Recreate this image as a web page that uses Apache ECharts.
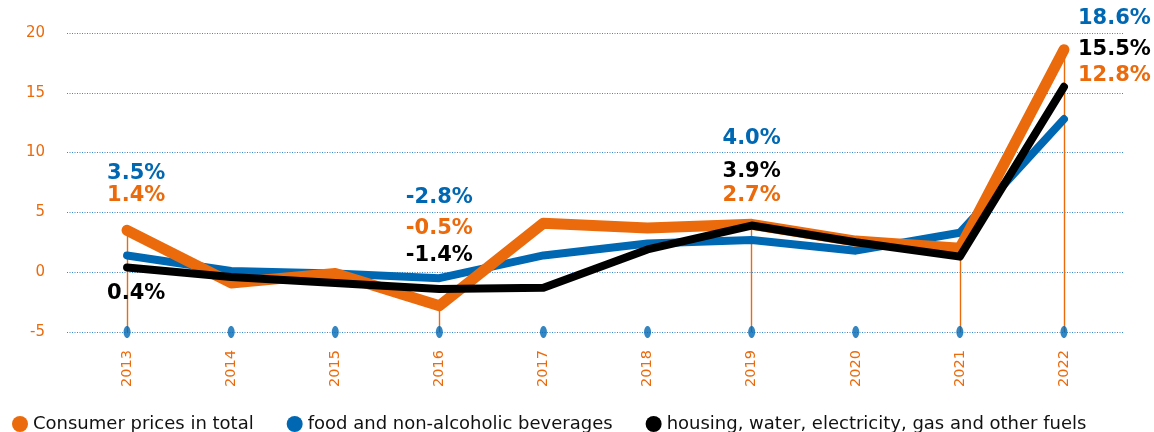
<!DOCTYPE html>
<html>
<head>
<meta charset="utf-8">
<script src="https://cdn.jsdelivr.net/npm/echarts@6/dist/echarts.min.js"></script>
<style>
  html, body { margin: 0; padding: 0; background: #fff; }
  #chart { width: 1154px; height: 432px; }
</style>
</head>
<body>
<div id="chart"></div>
<script>
// Annual change, %
const years = ['2013', '2014', '2015', '2016', '2017', '2018', '2019', '2020', '2021', '2022'];
const consumerPrices = [3.5, -0.9, -0.1, -2.8, 4.1, 3.7, 4.0, 2.6, 2.0, 18.6];
const foodBeverages = [1.4, 0.1, -0.1, -0.5, 1.4, 2.4, 2.7, 1.8, 3.3, 12.8];
const housingFuels = [0.4, -0.4, -0.9, -1.4, -1.3, 1.9, 3.9, 2.5, 1.3, 15.5];
const seriesNames = ['Consumer prices in total', 'food and non-alcoholic beverages', 'housing, water, electricity, gas and other fuels'];
const yTicks = [-5, 0, 5, 10, 15, 20];
const dropYears = ['2013', '2016', '2019', '2021', '2022'];

const ORANGE = '#EB6A0C';
const BLUE = '#0068B3';
const BLACK = '#000000';
const yMin = yTicks[0], yMax = yTicks[yTicks.length - 1], yStep = yTicks[1] - yTicks[0];
const pxPerUnit = 12;

// value labels: which years carry one, text colour, alignment and where the text sits
// (centre, in px above/below the axis zero line) for each series
const labelLayout = {
  consumer: { color: BLUE, spots: { '2013': [-20, 'left', 99], '2016': [0, 'center', 75], '2019': [0, 'center', 134], '2022': [14, 'left', 254] } },
  food:     { color: ORANGE, spots: { '2013': [-20, 'left', 77], '2016': [0, 'center', 44], '2019': [0, 'center', 77], '2022': [14, 'left', 197] } },
  housing:  { color: BLACK, spots: { '2013': [-20, 'left', -21], '2016': [0, 'center', 17], '2019': [0, 'center', 101], '2022': [14, 'left', 223] } }
};

function withLabels(values, layout) {
  return values.map((v, i) => {
    const spot = layout.spots[years[i]];
    if (!spot) return v;
    const pointUp = v * pxPerUnit;
    return {
      value: v,
      label: {
        show: true,
        position: 'inside',
        align: spot[1],
        verticalAlign: 'middle',
        offset: [spot[0], pointUp - spot[2]],
        color: layout.color,
        fontFamily: 'DejaVu Sans',
        fontWeight: 'bold',
        fontSize: 21,
        formatter: (p) => p.value.toFixed(1) + '%'
      }
    };
  });
}

function lineSeries(name, values, color, width, layout, z) {
  return {
    name: name,
    type: 'line',
    xAxisIndex: 1,
    yAxisIndex: 1,
    data: withLabels(values, layout),
    symbol: 'circle',
    symbolSize: 1,
    showSymbol: true,
    itemStyle: { color: color },
    lineStyle: { color: color, width: width, cap: 'round', join: 'round' },
    label: { show: false },
    emphasis: { disabled: true },
    animation: false,
    z: z
  };
}

const chart = echarts.init(document.getElementById('chart'), null, { renderer: 'canvas' });

const gridTop = 33, gridBottom = 100;

chart.setOption({
  backgroundColor: '#ffffff',
  animation: false,
  grid: [
    { left: 67, right: 31, top: gridTop, bottom: gridBottom },
    { left: 75, right: 38, top: gridTop, bottom: gridBottom }
  ],
  xAxis: [
    { type: 'category', gridIndex: 0, data: years, show: false },
    {
      type: 'category', gridIndex: 1, data: years, boundaryGap: true,
      axisLine: { show: false }, axisTick: { show: false }, splitLine: { show: false },
      axisLabel: { rotate: 90, margin: 18, color: ORANGE, fontFamily: 'DejaVu Sans', fontSize: 14.5 }
    }
  ],
  yAxis: [
    {
      type: 'value', gridIndex: 0, min: yMin, max: yMax, interval: yStep,
      axisLine: { show: false }, axisTick: { show: false },
      axisLabel: { margin: 22, color: ORANGE, fontFamily: 'DejaVu Sans', fontSize: 15 },
      splitLine: { show: true, lineStyle: { color: '#3A86CC', width: 1, type: [1, 1.5] } }
    },
    {
      type: 'value', gridIndex: 1, min: yMin, max: yMax, interval: yStep,
      show: false, splitLine: { show: false }
    }
  ],
  legend: {
    left: 7,
    top: 410,
    icon: 'circle',
    itemWidth: 16,
    itemHeight: 16,
    itemGap: 33,
    textStyle: { color: '#111', fontFamily: 'DejaVu Sans', fontSize: 18 },
    data: seriesNames
  },
  series: [
    // oval markers on the baseline with the orange drop lines up to selected years
    {
      type: 'scatter',
      xAxisIndex: 1,
      yAxisIndex: 1,
      data: years.map((y) => [y, yMin]),
      symbol: 'path://M3.5,0 C5.4,0 7,2.7 7,6 C7,9.3 5.4,12 3.5,12 C1.6,12 0,9.3 0,6 C0,2.7 1.6,0 3.5,0 Z',
      symbolSize: [7, 12],
      itemStyle: { color: BLUE },
      silent: true,
      z: 6,
      markLine: {
        z: 1,
        silent: true,
        symbol: 'none',
        label: { show: false },
        lineStyle: { color: ORANGE, width: 1.4, type: 'solid' },
        data: dropYears.map((y) => {
          const i = years.indexOf(y);
          return [{ coord: [y, consumerPrices[i]] }, { coord: [y, yMin] }];
        })
      }
    },
    lineSeries(seriesNames[1], foodBeverages, BLUE, 8, labelLayout.food, 3),
    lineSeries(seriesNames[0], consumerPrices, ORANGE, 11, labelLayout.consumer, 4),
    lineSeries(seriesNames[2], housingFuels, BLACK, 8, labelLayout.housing, 5)
  ]
});
</script>
</body>
</html>
